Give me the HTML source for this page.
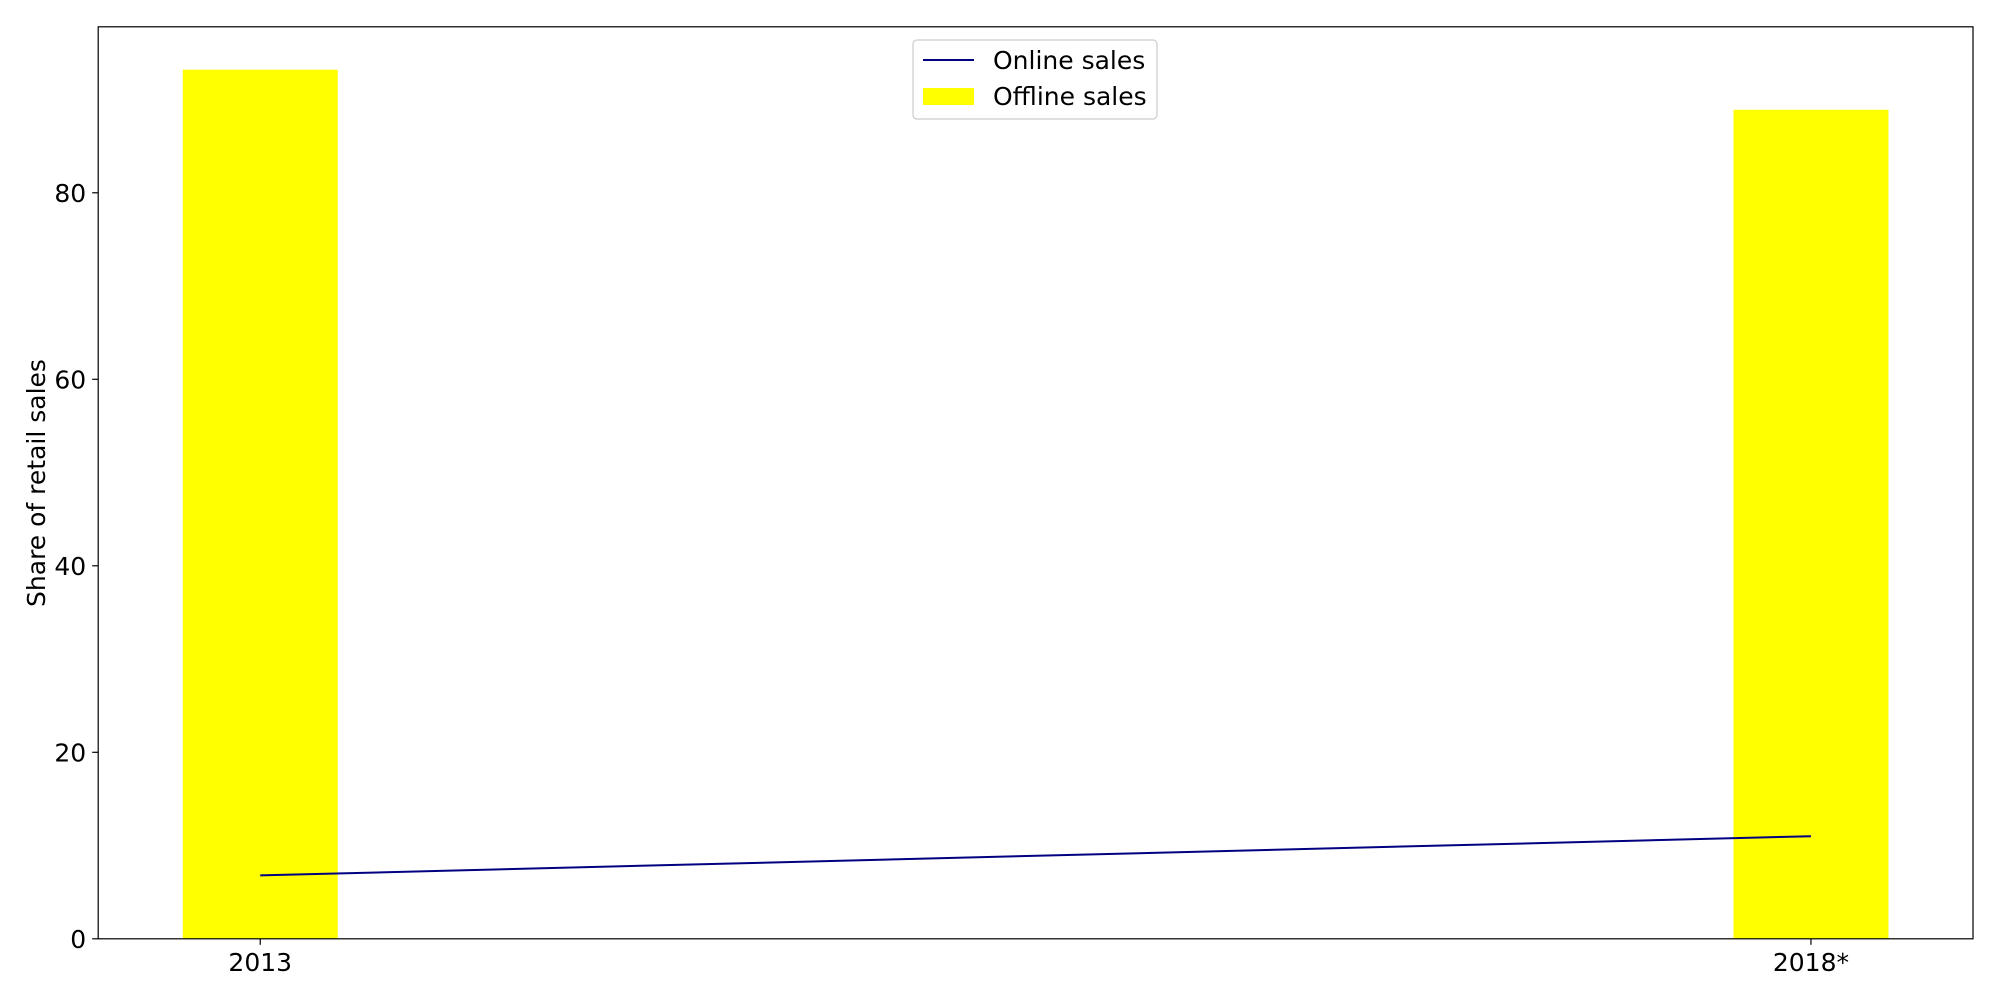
<!DOCTYPE html>
<html><head><meta charset="utf-8"><style>
html,body{margin:0;padding:0;background:#fff;}
svg{display:block;font-family:"DejaVu Sans","Liberation Sans",sans-serif;}
</style></head><body>
<svg id="chart" width="2000" height="1000" viewBox="0 0 2000 1000">
<g id="plot"></g>
</svg>
<script>
const categories = ["2013", "2018*"];
const offlineSales = [93.2, 88.9];
const onlineSales = [6.8, 11.0];
const yTicks = [0, 20, 40, 60, 80];

const L = 98.2, R = 1973, T = 26.8, B = 938.8;
const yMax = 97.8;
const xMin = -0.1045, xMax = 1.1045;
const ns = "http://www.w3.org/2000/svg";
const g = document.getElementById('plot');
function xs(i){ return L + (i - xMin) / (xMax - xMin) * (R - L); }
function ys(v){ return B - v / yMax * (B - T); }
function mk(tag, attrs, parent){
  const e = document.createElementNS(ns, tag);
  for (const k in attrs) e.setAttribute(k, attrs[k]);
  (parent || g).appendChild(e);
  return e;
}
const barW = 155;
offlineSales.forEach((v, i) => {
  const r = mk('rect', {x: xs(i) - barW/2, y: ys(v), width: barW, height: ys(0) - ys(v), fill: '#ffff00'});
  
  
});
const pts = onlineSales.map((v, i) => xs(i) + ',' + ys(v)).join(' ');
const line = mk('polyline', {points: pts, fill: 'none', stroke: '#000080', 'stroke-width': 2});


const frame = mk('rect', {x: L, y: T, width: R - L, height: B - T, fill: 'none', stroke: '#000', 'stroke-width': 1.2});


yTicks.forEach(t => {
  const y = ys(t);
  mk('line', {x1: L - 6, x2: L, y1: y, y2: y, stroke: '#000', 'stroke-width': 1.2});
  const tx = mk('text', {x: L - 12, y: y + 9, 'text-anchor': 'end', 'font-size': 25});
  tx.textContent = t;
  
  
});
categories.forEach((c, i) => {
  const x = xs(i);
  mk('line', {x1: x, x2: x, y1: B, y2: B + 6, stroke: '#000', 'stroke-width': 1.2});
  const tx = mk('text', {x: x, y: B + 32, 'text-anchor': 'middle', 'font-size': 25});
  tx.textContent = c;
  
  
});
const yl = mk('text', {x: 0, y: 0, transform: 'translate(45,483) rotate(-90)', 'text-anchor': 'middle', 'font-size': 25});
yl.textContent = 'Share of retail sales';


const lg = mk('g', {});


mk('rect', {x: 913, y: 40, width: 244, height: 79, rx: 4, fill: '#fff', stroke: '#ccc', 'stroke-width': 1.2}, lg);
mk('line', {x1: 923, x2: 974, y1: 60, y2: 60, stroke: '#000080', 'stroke-width': 2}, lg);
const t1 = mk('text', {x: 993, y: 69, 'font-size': 25}, lg);
t1.textContent = 'Online sales';


mk('rect', {x: 923, y: 88, width: 51, height: 17, fill: '#ffff00'}, lg);
const t2 = mk('text', {x: 993, y: 105, 'font-size': 25}, lg);
t2.textContent = 'Offline sales';


</script>
</body></html>
